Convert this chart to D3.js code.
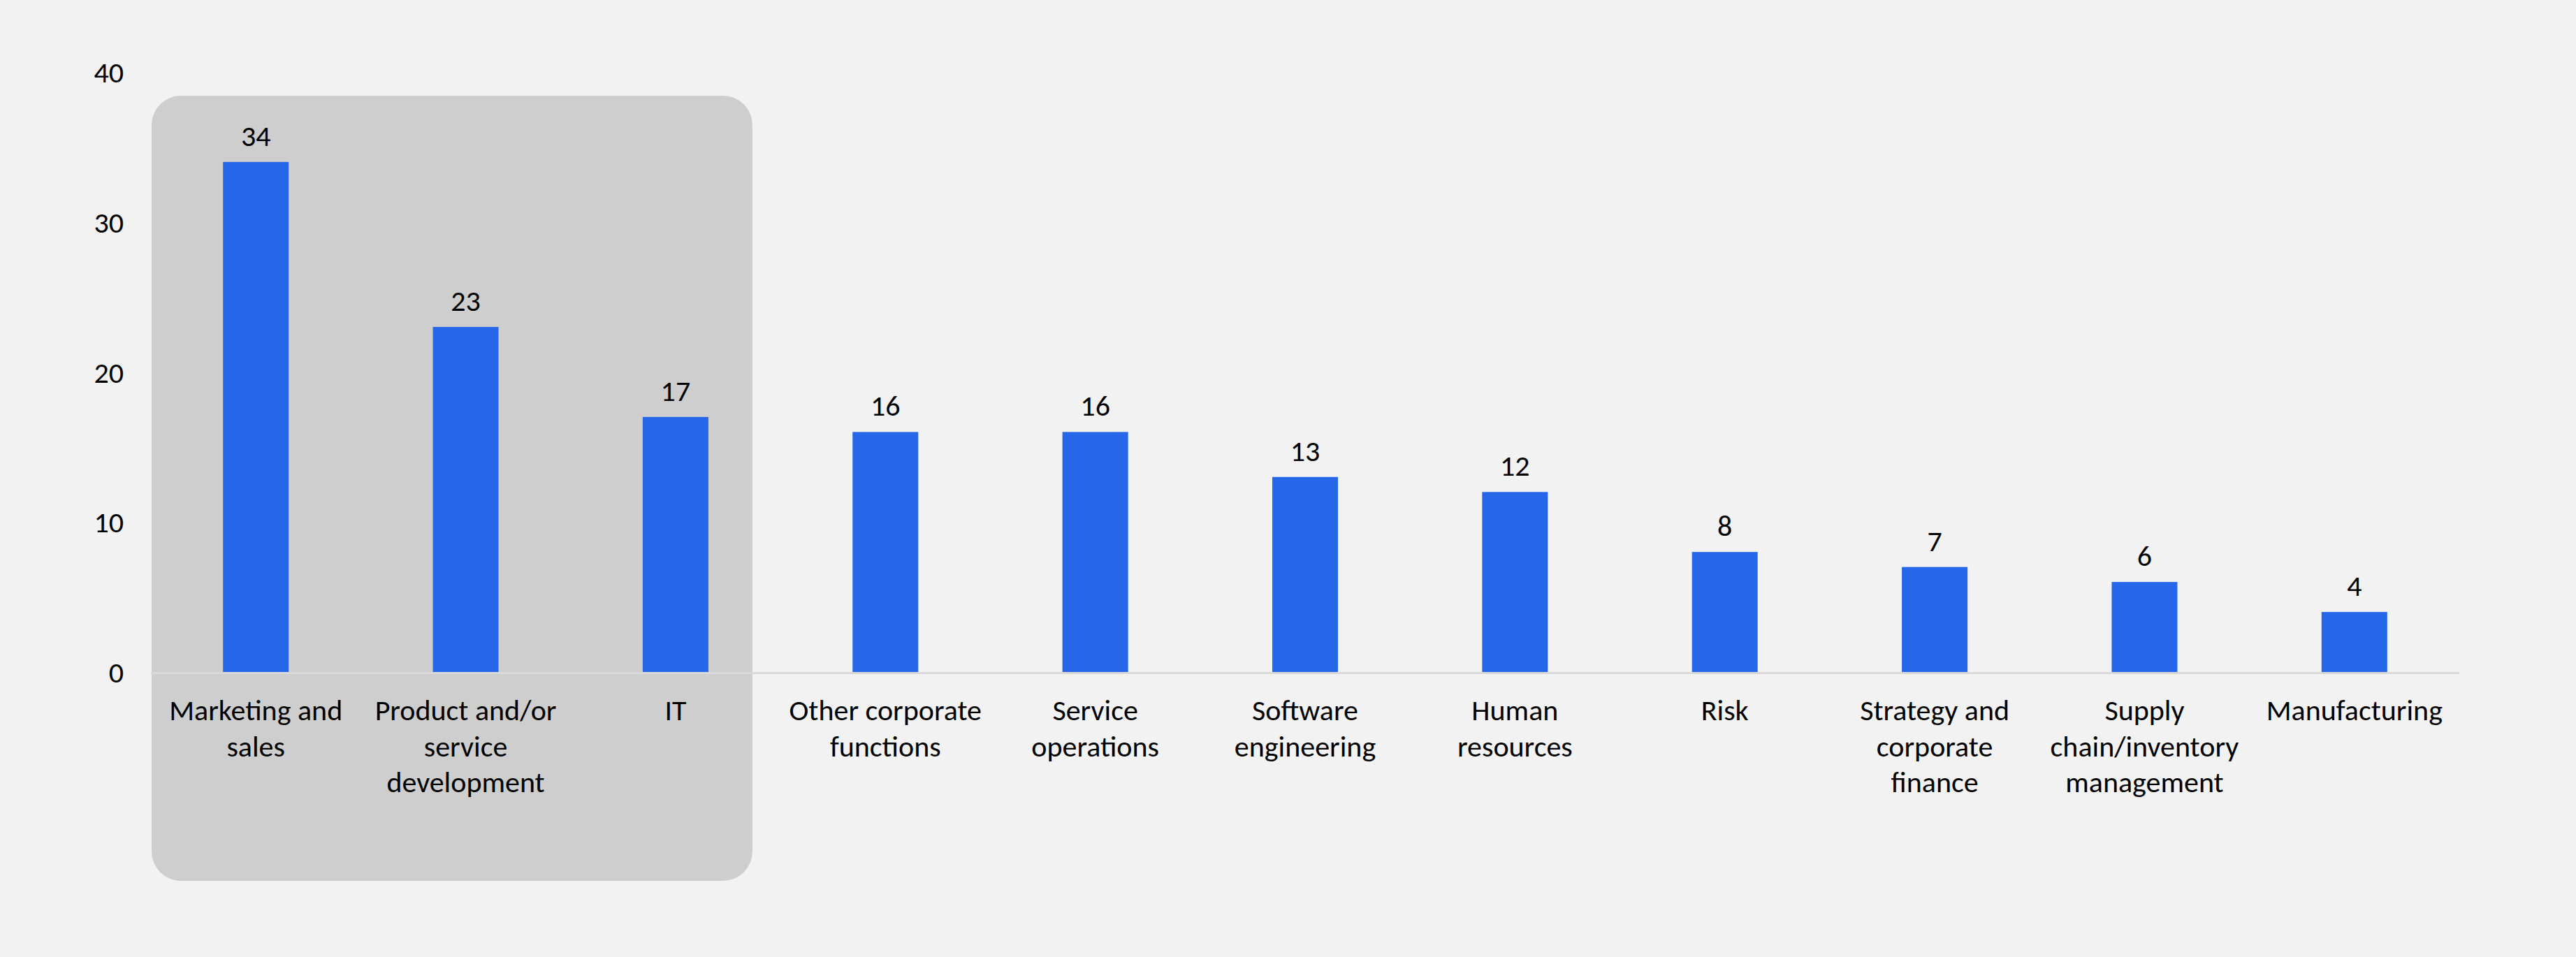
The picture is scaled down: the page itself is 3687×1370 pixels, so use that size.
<!DOCTYPE html>
<html>
<head>
<meta charset="utf-8">
<script src="https://cdn.jsdelivr.net/npm/d3@7"></script>
<style>
  html, body { margin: 0; padding: 0; background: #F2F2F2; }
  svg { display: block; }
  text { font-family: Carlito, Calibri, Lato, "Liberation Sans", sans-serif; fill: #000; }
</style>
</head>
<body>
<script>
// Functions and the share of respondents reporting use in each
const categories = [
  "Marketing and sales",
  "Product and/or service development",
  "IT",
  "Other corporate functions",
  "Service operations",
  "Software engineering",
  "Human resources",
  "Risk",
  "Strategy and corporate finance",
  "Supply chain/inventory management",
  "Manufacturing"
];
// Wrapped label lines per category
const labelLines = [
  ["Marketing and", "sales"],
  ["Product and/or", "service", "development"],
  ["IT"],
  ["Other corporate", "functions"],
  ["Service", "operations"],
  ["Software", "engineering"],
  ["Human", "resources"],
  ["Risk"],
  ["Strategy and", "corporate", "finance"],
  ["Supply", "chain/inventory", "management"],
  ["Manufacturing"]
];
const values = [34, 23, 17, 16, 16, 13, 12, 8, 7, 6, 4];
const yTicks = [0, 10, 20, 30, 40];
// The first three functions are grouped behind a shaded panel
const highlighted = categories.slice(0, 3);

const W = 3687, H = 1370;
const margin = { left: 216, right: 167, top: 103, bottom: 408 };

const svg = d3.select("body").append("svg")
  .attr("width", W).attr("height", H);

svg.append("rect").attr("width", W).attr("height", H).attr("fill", "#F2F2F2");

const x = d3.scaleBand()
  .domain(categories)
  .range([margin.left, W - margin.right])
  .paddingInner(0.687)
  .paddingOuter(0.3435);

const y = d3.scaleLinear()
  .domain([0, 40])
  .range([H - margin.bottom, margin.top]);

// Shaded highlight panel
const hx0 = margin.left + 1;
const lastHi = highlighted[highlighted.length - 1];
const hx1 = x(lastHi) + x.bandwidth() / 2 + 110;
svg.append("rect")
  .attr("x", hx0)
  .attr("y", 137)
  .attr("width", hx1 - hx0)
  .attr("height", 1261 - 137)
  .attr("rx", 42).attr("ry", 42)
  .attr("fill", "#CECECE");

// Baseline
svg.append("line")
  .attr("x1", margin.left).attr("x2", W - margin.right)
  .attr("y1", y(0) + 1.5).attr("y2", y(0) + 1.5)
  .attr("stroke", "#D9D9D9").attr("stroke-width", 3);

// Y axis labels (no line, no ticks)
const yAxis = d3.axisLeft(y).tickValues(yTicks).tickSize(0).tickPadding(0);
const yg = svg.append("g")
  .attr("transform", `translate(${177},0)`)
  .call(yAxis);
yg.select(".domain").remove();
yg.selectAll("text")
  .attr("font-size", 42)
  .attr("font-family", "Carlito, Calibri, Lato, 'Liberation Sans', sans-serif")
  .attr("fill", "#000")
  .attr("dy", "0.35em");

// Bars
const data = categories.map((c, i) => ({ c, v: values[i], lines: labelLines[i] }));
svg.append("g").selectAll("rect")
  .data(data)
  .join("rect")
  .attr("x", d => x(d.c))
  .attr("y", d => y(d.v))
  .attr("width", x.bandwidth())
  .attr("height", d => y(0) - y(d.v))
  .attr("fill", "#2567E8");

// Value labels
svg.append("g").selectAll("text")
  .data(data)
  .join("text")
  .attr("x", d => x(d.c) + x.bandwidth() / 2)
  .attr("y", d => y(d.v) - 23)
  .attr("text-anchor", "middle")
  .attr("font-size", 42)
  .text(d => d.v);

// Category labels
const lab = svg.append("g").selectAll("text")
  .data(data)
  .join("text")
  .attr("x", d => x(d.c) + x.bandwidth() / 2)
  .attr("y", y(0) + 69)
  .attr("text-anchor", "middle")
  .attr("font-size", 42);
lab.selectAll("tspan")
  .data(d => d.lines.map(l => ({ l, cx: x(d.c) + x.bandwidth() / 2 })))
  .join("tspan")
  .attr("x", t => t.cx)
  .attr("dy", (t, i) => i === 0 ? 0 : 51.5)
  .text(t => t.l);
</script>
</body>
</html>
